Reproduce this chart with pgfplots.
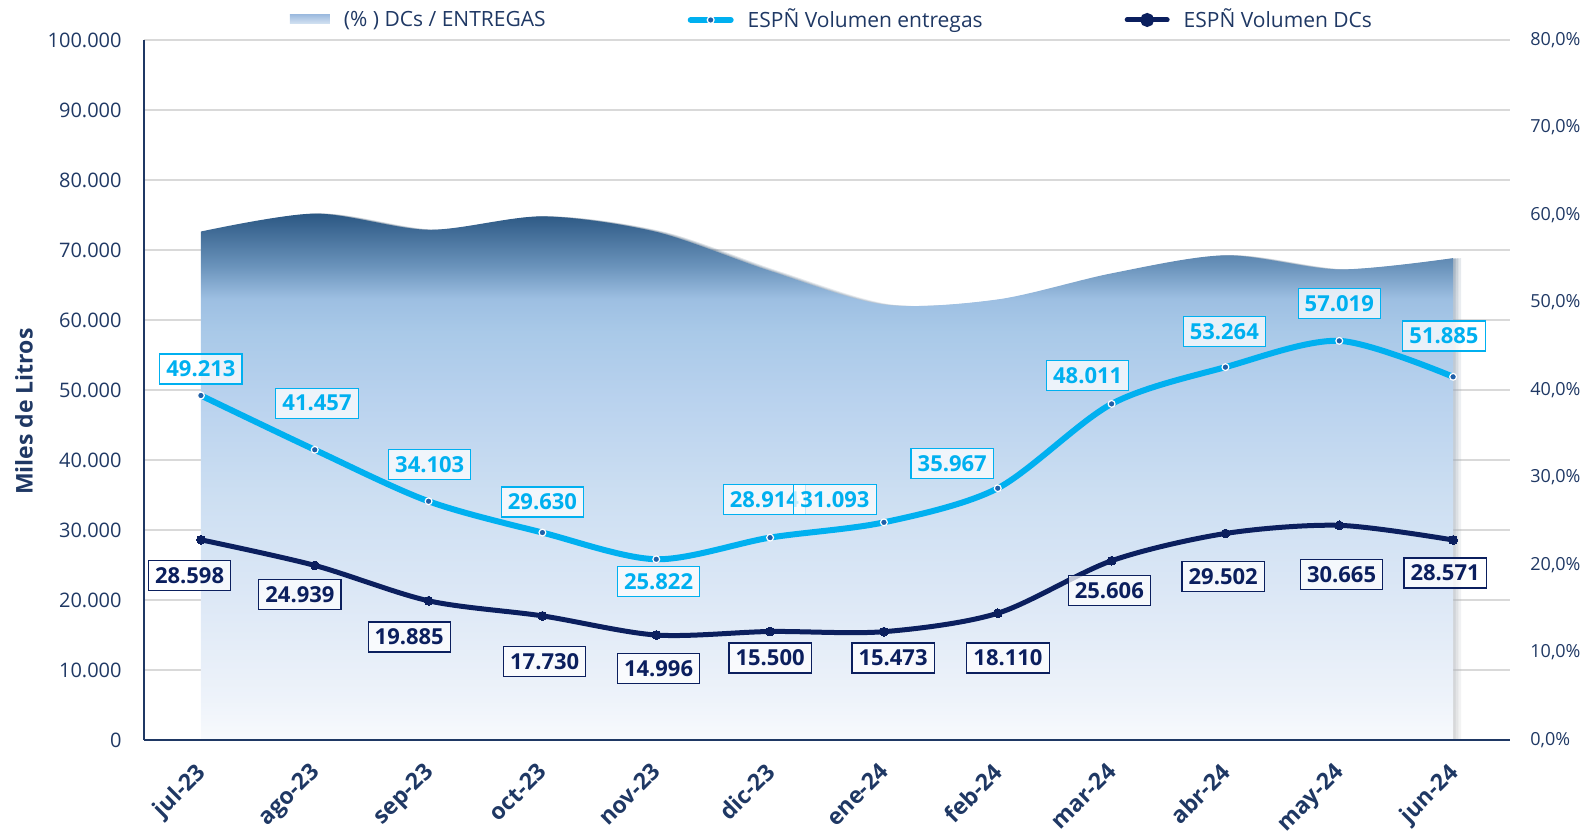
\documentclass[border=0pt]{standalone}
\usepackage{pgfplots}
\pgfplotsset{compat=1.18}
\usepackage{fontspec}
\setmainfont{Open Sans}
\usetikzlibrary{shadows}

\definecolor{navytxt}{HTML}{1F3864}
\definecolor{dcline}{HTML}{0B1F5E}
\definecolor{entline}{HTML}{00B0F0}
\definecolor{entmark}{HTML}{2060A8}
\definecolor{gridc}{HTML}{D9D9D9}
\definecolor{s0}{HTML}{F8FAFD}
\definecolor{s1}{HTML}{EEF3FA}
\definecolor{s2}{HTML}{DDE8F6}
\definecolor{s3}{HTML}{CDDFF2}
\definecolor{s4}{HTML}{B9D2EE}
\definecolor{s5}{HTML}{A9C9E8}
\definecolor{s6}{HTML}{9DBFE2}
\definecolor{s7}{HTML}{6A93BB}
\definecolor{s8}{HTML}{2B5783}
\definecolor{lg1}{HTML}{A0BDE0}
\definecolor{lg2}{HTML}{D5E3F2}

\pgfdeclareverticalshading{areashade}{100bp}{color(0bp)=(s0); color(25bp)=(s0); color(28.8bp)=(s1); color(38.3bp)=(s2); color(47.9bp)=(s3); color(57.4bp)=(s4); color(63.75bp)=(s5); color(66.9bp)=(s6); color(70bp)=(s7); color(75bp)=(s8); color(100bp)=(s8)}

\tikzset{
  lblstyle/.style={anchor=center, font=\bfseries\fontsize{11}{13}\selectfont,
    text=#1, draw=#1, fill=white, fill opacity=0.75, text opacity=1, draw opacity=1,
    line width=0.6pt, inner xsep=3.3pt, inner ysep=0pt, minimum height=15pt},
}
\pgfplotsset{
  base/.style={scale only axis, width=683pt, height=350pt,
    at={(0pt,0pt)}, anchor=south west, xmin=-0.5, xmax=11.5},
  swatchlegend/.style={legend image code/.code={\shade[draw=none, top color=lg1, bottom color=lg2] (0pt,-2pt) rectangle (20pt,2.5pt);}},
  mylinelegend/.style={legend image code/.code={\draw[mark repeat=2,mark phase=2,##1] plot coordinates {(0pt,0pt) (10pt,0pt) (20pt,0pt)};}},
}

\begin{document}
\begin{tikzpicture}
% grid only
\begin{axis}[base, ymin=0, ymax=100000, scaled y ticks=false,
  ytick={0,10000,...,100000}, yticklabels={}, xtick=\empty,
  ymajorgrids, grid style={gridc, line width=0.75pt},
  axis line style={draw=none}, major tick length=0pt]
\addplot[draw=none, forget plot] coordinates {(0,0)};
\end{axis}
% area on right axis
\begin{axis}[base, ymin=0, ymax=80,
  axis y line*=right, axis x line=none, y axis line style={draw=none},
  xtick=\empty, ytick={0,10,...,80}, major tick length=0pt,
  yticklabel={\pgfmathprintnumber[fixed,fixed zerofill,precision=1,use comma,assume math mode=true]{\tick}\%},
  yticklabel style={font=\fontsize{9}{11}\selectfont, text=navytxt, anchor=west, inner sep=0pt, xshift=10pt}]
\addplot[draw=none, shade, shading=areashade, smooth,
  drop shadow={shadow xshift=4pt, shadow yshift=0pt, opacity=0.10},
  drop shadow={shadow xshift=2.6pt, shadow yshift=0pt, opacity=0.14},
  drop shadow={shadow xshift=1.3pt, shadow yshift=0pt, opacity=0.2}]
  coordinates {(0,58.11) (1,60.16) (2,58.31) (3,59.84) (4,58.07) (5,53.61)
               (6,49.76) (7,50.35) (8,53.33) (9,55.39) (10,53.78) (11,55.07)} \closedcycle;
\end{axis}
% lines, labels, axes
\begin{axis}[base, ymin=0, ymax=100000, clip=false, scaled y ticks=false,
  axis x line*=bottom, axis y line*=left,
  axis line style={navytxt, line width=0.9pt},
  major tick length=0pt,
  xtick={0,...,11},
  xticklabels={jul-23,ago-23,sep-23,oct-23,nov-23,dic-23,ene-24,feb-24,mar-24,abr-24,may-24,jun-24},
  xticklabel style={font=\bfseries\fontsize{11.5}{14}\selectfont, text=navytxt, inner sep=0pt, xshift=-3pt, yshift=-10.5pt, rotate=45, anchor=north east},
  ytick={0,10000,...,100000},
  yticklabel={\pgfmathprintnumber[fixed,precision=0,1000 sep={.},assume math mode=true]{\tick}},
  yticklabel style={font=\fontsize{10}{12}\selectfont, text=navytxt, anchor=east, inner sep=0pt, xshift=-11pt},
  ylabel={Miles de Litros},
  every axis y label/.style={at={(axis description cs:-0.0878,0.469)}, rotate=90, anchor=center,
    font=\bfseries\fontsize{11.5}{13}\selectfont, text=navytxt},
  legend columns=3,
  legend style={draw=none, fill=none, at={(0.5044,1.0286)}, anchor=center,
    font=\fontsize{10.5}{12}\selectfont, text=navytxt,
    /tikz/every odd column/.append style={column sep=5pt},
    /tikz/every even column/.append style={column sep=69pt}},
  ]
\addlegendimage{swatchlegend}
\addlegendentry{(\% ) DCs / ENTREGAS}
\addlegendimage{entline, line width=3pt, line cap=round, mark=*, mark size=1.7pt, mark options={fill=entmark, draw=white, line width=0.6pt}, mylinelegend}
\addlegendentry{ESPÑ Volumen entregas}
\addlegendimage{dcline, line width=2.5pt, line cap=round, mark=*, mark size=2.2pt, mark options={fill=dcline, draw=dcline}, mylinelegend}
\addlegendentry{ESPÑ Volumen DCs}

\addplot[forget plot, entline, line width=3pt, line cap=round, smooth, mark=*, mark size=1.7pt,
  mark options={fill=entmark, draw=white, line width=0.6pt}]
  coordinates {(0,49213) (1,41457) (2,34103) (3,29630) (4,25822) (5,28914)
               (6,31093) (7,35967) (8,48011) (9,53264) (10,57019) (11,51885)};
\addplot[forget plot, dcline, line width=2.5pt, line cap=round, smooth, mark=*, mark size=2.2pt,
  mark options={fill=dcline, draw=dcline, line width=0pt}]
  coordinates {(0,28598) (1,24939) (2,19885) (3,17730) (4,14996) (5,15500)
               (6,15473) (7,18110) (8,25606) (9,29502) (10,30665) (11,28571)};

\addplot[forget plot, draw=none, mark=none, point meta=explicit symbolic,
  nodes near coords={\pgfplotspointmeta}, nodes near coords align={center},
  every node near coord/.append style={lblstyle=entline}]
  coordinates {(0.00,53000) [49.213] (1.02,48100) [41.457] (2.01,39300) [34.103]
               (3.00,34000) [29.630] (4.02,22600) [25.822] (4.95,34400) [28.914]
               (5.57,34400) [31.093] (6.60,39500) [35.967] (7.79,52100) [48.011]
               (8.99,58300) [53.264] (10.00,62300) [57.019] (10.92,57700) [51.885]};
\addplot[forget plot, draw=none, mark=none, point meta=explicit symbolic,
  nodes near coords={\pgfplotspointmeta}, nodes near coords align={center},
  every node near coord/.append style={lblstyle=dcline}]
  coordinates {(-0.10,23500) [28.598] (0.87,20800) [24.939] (1.83,14700) [19.885]
               (3.02,11250) [17.730] (4.02,10200) [14.996] (5.00,11700) [15.500]
               (6.08,11700) [15.473] (7.09,11700) [18.110] (7.98,21300) [25.606]
               (8.98,23400) [29.502] (10.02,23650) [30.665] (10.93,23850) [28.571]};
\end{axis}
\pgfresetboundingbox
\useasboundingbox (-72pt,-46.5pt) rectangle (719.5pt,370pt);
\end{tikzpicture}
\end{document}
